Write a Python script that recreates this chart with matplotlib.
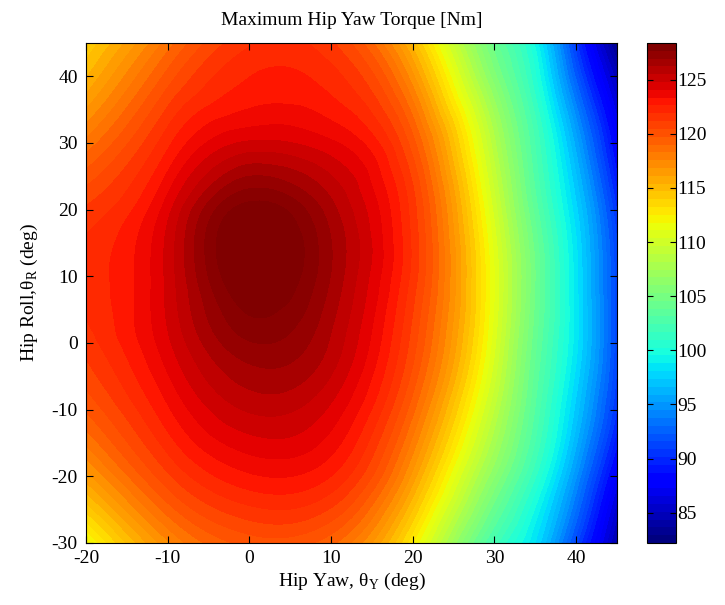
import matplotlib.pyplot as plt
import matplotlib.tri as mtri
import numpy as np

plt.rcParams["font.family"] = ["Liberation Serif", "DejaVu Serif"]
plt.rcParams["mathtext.fontset"] = "custom"
plt.rcParams["mathtext.rm"] = "Liberation Serif"
plt.rcParams["axes.unicode_minus"] = False

# grid
hip_yaw = [-20, -10, 0, 10, 20, 30, 35, 40, 45]
hip_roll = [-30, -20, -10, 0, 10, 20, 30, 40, 45]

# torque [Nm], one row per roll value (bottom to top)
torque_roll_m30 = [111.5, 117.4, 120.0, 119.2, 112.5, 102.0, 98.0, 91.0, 84.0]
torque_roll_m20 = [116.5, 121.0, 123.2, 122.6, 116.5, 106.0, 101.0, 94.5, 87.0]
torque_roll_m10 = [119.8, 123.2, 125.6, 124.6, 119.2, 108.8, 103.0, 97.0, 90.0]
torque_roll_0 = [121.5, 124.6, 127.6, 126.1, 120.8, 110.5, 104.0, 98.3, 91.0]
torque_roll_10 = [122.2, 125.0, 129.3, 126.9, 121.6, 111.0, 104.5, 98.3, 91.0]
torque_roll_20 = [121.3, 124.5, 128.8, 126.5, 121.5, 110.0, 103.5, 97.5, 90.0]
torque_roll_30 = [118.5, 122.4, 124.9, 124.2, 120.0, 108.3, 102.3, 95.5, 87.5]
torque_roll_40 = [115.3, 120.0, 122.6, 122.2, 117.0, 105.5, 100.3, 92.0, 84.5]
torque_roll_45 = [114.0, 118.6, 121.8, 121.3, 115.0, 104.1, 99.2, 90.3, 82.5]

torque = np.array([
    torque_roll_m30, torque_roll_m20, torque_roll_m10, torque_roll_0,
    torque_roll_10, torque_roll_20, torque_roll_30, torque_roll_40, torque_roll_45,
])

vmin, vmax = 82.2, 128.4
levels = np.linspace(vmin, vmax, 65)

# smooth shading like MATLAB's interp, done by matplotlib's tri refiner
yy, rr = np.meshgrid(hip_yaw, hip_roll)
triang = mtri.Triangulation(yy.ravel(), rr.ravel())
fine_tri, fine_torque = mtri.UniformTriRefiner(triang).refine_field(torque.ravel(), subdiv=4)

fig = plt.figure(figsize=(7.25, 6.05), dpi=100)
ax = fig.add_axes([0.1186, 0.1025, 0.7324, 0.8265])
cax = fig.add_axes([0.892, 0.1025, 0.040, 0.8265])

cs = ax.tricontourf(fine_tri, fine_torque, levels=levels, cmap="jet", extend="both")
cs.set_edgecolor("face")
cs.set_linewidth(0.4)

ax.set_xlim(-20, 45)
ax.set_ylim(-30, 45)
ax.set_xticks(np.arange(-20, 41, 10))
ax.set_yticks(np.arange(-30, 41, 10))
ax.tick_params(direction="in", top=True, right=True, length=5, labelsize=14)
ax.tick_params(axis="y", pad=6)
ax.tick_params(axis="x", pad=5)
for spine in ax.spines.values():
    spine.set_linewidth(0.8)

ax.set_title("Maximum Hip Yaw Torque [Nm]", fontsize=14, pad=13)
ax.set_xlabel("Hip Yaw, θ$_\\mathrm{Y}$ (deg)", fontsize=14, labelpad=3)
ax.set_ylabel("Hip Roll,θ$_\\mathrm{R}$ (deg)", fontsize=14, labelpad=8)

sm = plt.cm.ScalarMappable(norm=plt.Normalize(vmin, vmax), cmap=plt.get_cmap("jet", 64))
cbar = fig.colorbar(sm, cax=cax)
cbar.set_ticks(np.arange(85, 126, 5))
cbar.ax.tick_params(direction="in", left=True, right=True, length=4, labelsize=14, pad=1)
cbar.outline.set_linewidth(0.8)

fig.savefig("out.png", dpi=100)
